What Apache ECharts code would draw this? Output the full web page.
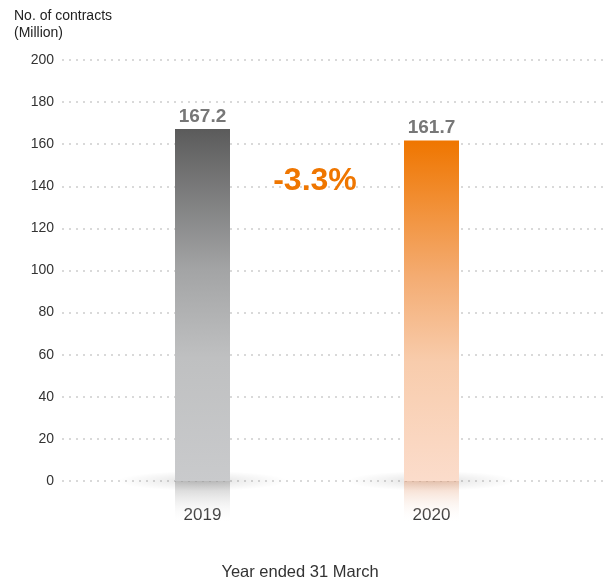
<!DOCTYPE html>
<html>
<head>
<meta charset="utf-8">
<script src="https://cdn.jsdelivr.net/npm/echarts@6/dist/echarts.min.js"></script>
<style>html,body{margin:0;padding:0;background:#fff;}#c{width:607px;height:579px;}</style>
</head>
<body>
<div id="c"></div>
<script>
const categories = ['2019', '2020'];
const contracts = [167.2, 161.7];
const changeLabel = '-3.3%';
const xAxisTitle = 'Year ended 31 March';
const yTicks = [0, 20, 40, 60, 80, 100, 120, 140, 160, 180, 200];

const FONT = '"Liberation Sans", Arial, Helvetica, sans-serif';
const grad = (top, mid1, mid2, bottom) => new echarts.graphic.LinearGradient(0, 0, 0, 1, [
  {offset: 0, color: top}, {offset: 0.4, color: mid1}, {offset: 0.65, color: mid2}, {offset: 1, color: bottom}
]);
const barColors = [
  grad('#5b5b5b', '#a3a4a5', '#bfc0c1', '#c9cacc'),
  grad('#ef7600', '#f4ac72', '#f8ccac', '#fbdccb')
];
const reflColors = [
  new echarts.graphic.LinearGradient(0, 0, 0, 1, [{offset: 0, color: 'rgba(150,150,150,0.55)'}, {offset: 1, color: 'rgba(255,255,255,0)'}]),
  new echarts.graphic.LinearGradient(0, 0, 0, 1, [{offset: 0, color: 'rgba(230,160,120,0.5)'}, {offset: 1, color: 'rgba(255,255,255,0)'}])
];

const chart = echarts.init(document.getElementById('c'), null, {renderer: 'canvas'});
chart.setOption({
  animation: false,
  backgroundColor: '#fff',
  title: {
    text: 'No. of contracts\n(Million)',
    left: 9, top: 3,
    textStyle: {fontFamily: FONT, fontSize: 14, fontWeight: 'normal', color: '#222', lineHeight: 17}
  },
  grid: [
    {left: 62, right: 0, top: 60, bottom: 98, outerBoundsMode: 'none', containLabel: false},
    {left: 88, right: 61, top: 60, bottom: 56, outerBoundsMode: 'none', containLabel: false}
  ],
  xAxis: [
    {gridIndex: 0, type: 'category', data: categories, show: false},
    {
      gridIndex: 1, type: 'category', data: categories,
      axisLine: {show: false}, axisTick: {show: false},
      axisLabel: {fontFamily: FONT, fontSize: 17, color: '#333', margin: -16}
    }
  ],
  yAxis: [
    {
      gridIndex: 0, type: 'value', min: 0, max: 200, interval: 20,
      axisLine: {show: false}, axisTick: {show: false},
      axisLabel: {fontFamily: FONT, fontSize: 14, color: '#333', margin: 8,
        formatter: v => yTicks.includes(v) ? String(v) : ''},
      splitLine: {show: true, lineStyle: {color: '#d9d9d9', width: 2, type: [2, 5]}}
    },
    {gridIndex: 1, type: 'value', min: -20, max: 200, interval: 20, show: false}
  ],
  graphic: [
    {
      type: 'text', x: 315, y: 181, z: 10,
      style: {text: changeLabel, fontFamily: FONT, fontSize: 32, fontWeight: 'bold', fill: '#ef7600',
        align: 'center', verticalAlign: 'middle'}
    },
    {
      type: 'text', x: 300, y: 572, z: 10,
      style: {text: xAxisTitle, fontFamily: FONT, fontSize: 16.5, fill: '#333',
        align: 'center', verticalAlign: 'middle'}
    }
  ],
  series: [
    {
      type: 'scatter', xAxisIndex: 1, yAxisIndex: 1, z: 1, silent: true,
      symbol: 'circle', symbolSize: [170, 20],
      itemStyle: {color: new echarts.graphic.RadialGradient(0.5, 0.5, 0.5, [
        {offset: 0, color: 'rgba(0,0,0,0.16)'}, {offset: 0.5, color: 'rgba(0,0,0,0.07)'}, {offset: 1, color: 'rgba(0,0,0,0)'}])},
      data: categories.map((c, i) => [i, 0])
    },
    {
      type: 'bar', xAxisIndex: 1, yAxisIndex: 1, z: 2, barWidth: 55, barGap: '-100%', silent: true,
      data: categories.map((c, i) => ({value: -20, itemStyle: {color: reflColors[i]}}))
    },
    {
      type: 'bar', xAxisIndex: 1, yAxisIndex: 1, z: 3, barWidth: 55, barGap: '-100%',
      data: contracts.map((v, i) => ({value: v, itemStyle: {color: barColors[i]}})),
      label: {show: true, position: 'top', distance: 3, fontFamily: FONT, fontSize: 19, fontWeight: 'bold', color: '#777',
        formatter: p => p.value.toFixed(1)}
    }
  ]
});
</script>
</body>
</html>
